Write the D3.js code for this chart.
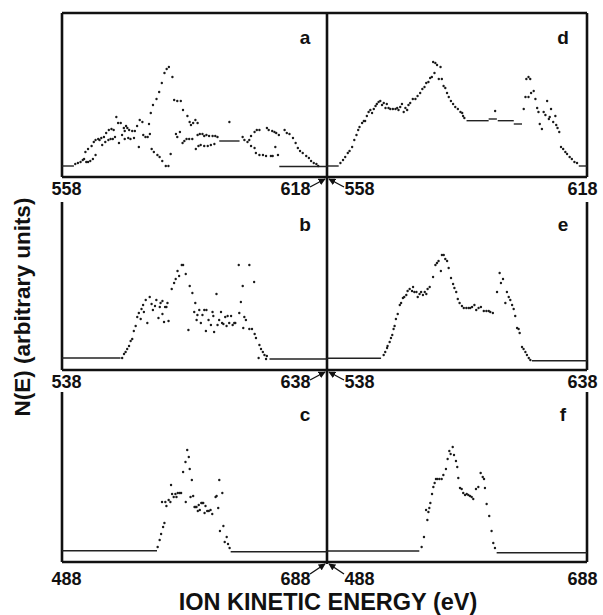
<!DOCTYPE html>
<html>
<head>
<meta charset="utf-8">
<script src="https://cdn.jsdelivr.net/npm/d3@7"></script>
<style>
  body { margin: 0; background: #fff; }
  text { font-family: "Liberation Sans", Arial, sans-serif; font-weight: bold; fill: #111; }
</style>
</head>
<body>
<div id="chart"></div>
<script>
var svgWidth = 603;
var svgHeight = 615;

// energy range of each row (eV)
var rowDomains = [[558, 618], [538, 638], [488, 688]];
var panelLetters = ["a", "b", "c", "d", "e", "f"];

// spectra: [energy (eV), N(E) arbitrary units]
var dotsA = [[561.0,13],[561.6,14],[562.2,15],[562.7,17],[563.0,18],[563.5,15],[563.9,15],[564.4,16],[565.0,18],[565.6,22],
  [563.3,25],[563.9,28],[564.7,31],[565.2,35],[565.6,37],[566.2,38],[566.5,37],[566.9,39],[567.5,40],[567.1,32],
  [567.8,35],[568.5,37],[569.0,38],[569.5,38],[570.0,40],[568.0,44],[568.6,47],[569.2,48],[569.7,47],[570.3,60],
  [570.7,54],[571.3,54],[570.9,34],[571.6,42],[572.0,49],[572.5,51],[572.2,46],[572.8,49],[573.2,47],[573.9,46],
  [574.5,46],[572.2,38],[573.0,39],[573.5,38],[574.3,39],[575.0,51],[575.6,57],[576.2,55],[575.4,30],[576.4,42],
  [576.9,40],[577.4,40],[577.7,53],[577.9,43],[578.3,28],[578.8,25],[579.6,22],[580.1,20],[580.7,16],[581.5,11],
  [582.1,11],[582.6,23],[578.1,64],[578.6,72],[579.4,78],[580.0,85],[580.6,94],[581.2,104],[581.7,108],[582.2,110],
  [583.0,100],[583.4,77],[584.1,76],[584.9,76],[585.4,67],[586.4,61],[586.9,55],[587.2,52],[587.7,54],[588.2,57],
  [588.7,54],[583.8,43],[584.1,40],[584.7,45],[585.3,34],[585.7,36],[586.2,38],[586.8,38],[587.5,38],[588.3,28],
  [588.7,42],[589.2,43],[589.8,43],[590.2,41],[590.7,42],[588.9,31],[589.4,32],[590.2,31],[591.0,31],[591.7,32],
  [592.5,33],[591.3,41],[592.1,41],[592.7,41],[593.2,40],[595.9,55],[598.9,40],[599.3,37],[600.0,35],[600.4,37],
  [600.8,41],[601.6,45],[602.1,47],[602.7,47],[600.8,31],[601.6,29],[601.9,24],[602.7,22],[603.5,22],[604.2,21],
  [605.3,21],[605.7,21],[604.4,49],[604.8,47],[605.6,46],[606.1,45],[606.5,44],[607.1,42],[606.3,30],[606.9,22],
  [608.4,47],[608.9,44],[609.5,43],[610.3,39],[610.9,34],[611.4,29],[611.9,26],[612.5,24],[613.3,21],[613.9,19],
  [614.4,16],[615.0,14],[615.6,13],[616.0,11]];
var dotsB = [[560.7,12],[561.4,16],[562.0,18],[562.6,21],[563.3,24],[563.9,29],[564.5,31],[565.1,39],[565.8,44],[566.4,53],
  [567.0,57],[567.7,51],[568.0,61],[568.6,65],[568.9,58],[569.6,70],[570.2,47],[571.1,73],[571.8,66],[572.3,60],
  [573.1,64],[573.6,70],[574.4,52],[574.9,63],[575.2,67],[575.9,69],[575.9,56],[576.5,48],[576.9,63],[577.4,63],
  [577.8,67],[578.2,49],[579.4,81],[580.3,87],[580.9,91],[581.6,99],[582.2,94],[583.2,105],[583.7,105],[584.7,96],
  [585.7,40],[586.2,84],[587.2,77],[588.3,67],[587.9,58],[588.8,50],[589.1,55],[589.8,60],[590.4,47],[591.0,55],
  [591.7,60],[592.3,39],[592.5,60],[593.3,50],[594.2,45],[594.8,58],[595.1,54],[595.4,38],[596.3,76],[596.7,45],
  [597.3,50],[598.0,58],[598.4,47],[598.9,46],[599.6,53],[600.1,44],[600.5,54],[601.1,47],[601.8,54],[602.4,45],
  [603.0,47],[603.4,47],[604.7,105],[604.9,57],[605.5,68],[606.2,84],[606.4,42],[606.8,53],[607.4,50],[608.7,105],
  [608.7,41],[609.7,41],[610.5,88],[610.7,36],[611.2,32],[612.5,25],[613.1,21],[613.8,18],[614.4,15],[615.0,11],
  [615.3,14],[612.2,12]];
var dotsC = [[560.2,15],[561.7,22],[562.8,28],[564.3,35],[565.3,39],[563.5,60],[566.0,60],[566.8,56],[568.5,62],[569.8,60],
  [570.3,77],[571.1,68],[572.3,65],[573.6,68],[574.4,65],[575.4,69],[576.9,69],[577.9,69],[579.4,90],[581.2,100],
  [581.4,60],[582.5,112],[583.7,105],[584.4,93],[585.0,65],[586.0,82],[587.0,66],[588.0,55],[588.8,55],[589.5,55],
  [590.5,51],[591.2,57],[592.0,52],[593.1,59],[593.8,59],[594.6,59],[595.6,49],[596.3,56],[597.6,51],[598.8,51],
  [600.1,52],[601.4,48],[603.9,65],[604.7,66],[605.9,54],[606.7,82],[609.0,69],[607.2,31],[609.8,36],[610.8,20],
  [612.3,25],[613.3,18],[614.5,14]];
var dotsD = [[561.1,14],[561.7,17],[562.2,20],[562.8,24],[563.2,26],[563.8,30],[564.3,37],[564.8,42],[565.2,47],[565.5,50],
  [566.1,54],[566.5,56],[566.8,56],[567.2,61],[567.6,65],[568.0,67],[568.4,64],[568.8,68],[569.2,71],[569.5,73],
  [569.9,75],[570.3,76],[570.7,72],[571.1,74],[571.5,69],[571.8,73],[572.2,69],[572.6,68],[573.2,68],[573.8,68],
  [574.2,69],[574.5,67],[574.9,70],[575.3,73],[575.7,65],[576.1,69],[576.5,67],[576.8,72],[577.2,74],[577.8,78],
  [578.4,78],[578.9,81],[579.5,84],[580.0,88],[580.5,90],[580.9,94],[581.4,95],[581.8,99],[582.2,100],[582.5,115],
  [582.8,104],[583.0,114],[583.4,112],[583.8,98],[584.2,110],[584.5,98],[584.9,91],[585.3,89],[585.7,84],[586.1,80],
  [586.6,76],[587.1,73],[587.6,70],[588.2,68],[588.8,65],[589.2,64],[589.4,61],[589.7,59],[596.8,66],[603.4,68],
  [603.8,80],[604.0,98],[604.5,100],[604.9,98],[604.5,80],[605.1,84],[605.7,86],[606.1,78],[606.5,69],[606.8,65],
  [607.1,53],[607.6,48],[608.0,65],[608.4,62],[608.8,76],[609.2,58],[609.4,60],[609.7,68],[610.2,55],[610.7,61],
  [610.9,52],[611.2,49],[611.6,45],[612.0,30],[612.5,28],[613.0,25],[613.4,23],[614.0,20],[614.5,18],[615.1,15],
  [615.7,14]];
var dotsE = [[559.8,15],[560.4,18],[561.1,22],[561.3,24],[562.1,28],[562.6,32],[563.1,35],[563.6,41],[564.0,44],[564.5,51],
  [565.2,56],[566.0,65],[566.5,67],[567.2,72],[567.7,73],[568.5,75],[569.0,79],[569.8,81],[570.7,79],[571.1,83],
  [571.6,78],[572.4,78],[572.9,73],[573.6,76],[574.2,78],[574.9,75],[575.6,78],[576.2,76],[576.7,81],[577.5,83],
  [578.8,93],[579.7,105],[580.3,107],[580.9,109],[581.8,99],[582.2,115],[582.9,115],[583.5,111],[584.2,109],[584.8,102],
  [585.7,92],[586.5,86],[587.0,82],[587.7,78],[588.3,71],[589.0,67],[589.9,64],[590.6,62],[591.6,62],[592.5,62],
  [593.1,62],[593.8,63],[594.7,65],[595.4,60],[596.3,62],[597.2,63],[598.3,59],[599.3,59],[600.2,59],[600.8,58],
  [601.8,57],[603.4,78],[604.4,97],[604.9,87],[605.7,91],[606.6,67],[607.2,78],[607.9,73],[608.5,70],[609.2,65],
  [609.8,61],[610.4,54],[611.1,42],[611.7,41],[612.1,37],[613.0,23],[613.6,21],[614.3,18],[614.9,15],[615.6,12],
  [616.2,10]];
var dotsF = [[560.8,15],[562.6,25],[564.2,52],[565.2,42],[566.0,50],[566.7,54],[567.5,59],[568.8,68],[569.8,75],[570.8,79],
  [571.8,83],[572.8,83],[574.4,83],[576.2,83],[577.5,87],[579.5,93],[580.8,103],[582.1,111],[583.1,108],[584.7,115],
  [585.7,107],[587.2,101],[588.2,95],[589.0,84],[590.3,74],[591.6,73],[592.8,69],[594.2,67],[595.5,68],[596.7,67],
  [598.0,66],[599.3,65],[600.5,63],[602.6,73],[604.4,75],[606.2,89],[607.8,85],[608.8,83],[609.5,74],[610.8,58],
  [612.8,46],[614.6,31],[615.9,19],[617.2,14]];

// flat runs of closely packed points: [from eV, to eV, N(E)]
var flatsA = [[558, 560.7, 11], [593.6, 598.2, 36], [607.2, 618, 10.5]];
var flatsB = [[538, 560.1, 12], [616.3, 638, 11]];
var flatsC = [[488, 559.7, 11.3], [615.3, 688, 10.3]];
var flatsD = [[558, 560.7, 11], [590.2, 595.3, 56.3], [595.3, 597.2, 58], [597.4, 601.1, 56.3], [601.1, 603.0, 53], [616.1, 618, 11]];
var flatsE = [[538, 558.8, 11.7], [616.8, 638, 9.3]];
var flatsF = [[488, 559.0, 11], [618.5, 688, 9.3]];

var allDots = [dotsA, dotsB, dotsC, dotsD, dotsE, dotsF];
var allFlats = [flatsA, flatsB, flatsC, flatsD, flatsE, flatsF];

var cols = [[62, 327], [327, 587]];
var rowTop = [13, 202, 392];
var rowBottom = [177, 370, 562];

var svg = d3.select("#chart").append("svg").attr("width", svgWidth).attr("height", svgHeight);

// frame
var frame = svg.append("g").attr("stroke", "#111").attr("stroke-width", 2.6).attr("fill", "none");
frame.append("line").attr("x1", 62).attr("x2", 587).attr("y1", 13).attr("y2", 13);
frame.append("line").attr("x1", 327).attr("x2", 327).attr("y1", 13).attr("y2", 564);
rowBottom.forEach(function(b, r) {
    frame.append("line").attr("x1", 62).attr("x2", 587).attr("y1", b).attr("y2", b);
    frame.append("line").attr("x1", 62).attr("x2", 62).attr("y1", rowTop[r]).attr("y2", b);
    frame.append("line").attr("x1", 587).attr("x2", 587).attr("y1", rowTop[r]).attr("y2", b);
});

panelLetters.forEach(function(letter, i) {
    var col = Math.floor(i / 3), row = i % 3;
    var bottom = rowBottom[row];
    var x = d3.scaleLinear().domain(rowDomains[row]).range(cols[col]);
    var y = d3.scaleLinear().domain([0, 160]).range([bottom, bottom - 160]);
    var g = svg.append("g");

    // flat parts drawn as lines
    var line = d3.line().x(d => x(d[0])).y(d => y(d[1]));
    allFlats[i].forEach(function(f) {
        g.append("path").attr("d", line([[f[0], f[2]], [f[1], f[2]]]))
            .attr("stroke", "#222").attr("stroke-width", 1.4).attr("fill", "none");
    });

    g.selectAll("circle").data(allDots[i]).enter().append("circle")
        .attr("cx", d => x(d[0])).attr("cy", d => y(d[1]))
        .attr("r", 1.2).attr("fill", "#1a1a1a");

    // end labels
    var labelY = row === 2 ? bottom + 23 : bottom + 18;
    var axis = d3.axisBottom(x).tickValues(rowDomains[row]).tickSize(0).tickFormat(d3.format("d"));
    var ax = svg.append("g").attr("transform", "translate(0," + bottom + ")").call(axis);
    ax.select(".domain").remove();
    ax.selectAll("text").attr("y", labelY - bottom).attr("dy", 0)
        .style("font-size", "18px").style("font-family", "Liberation Sans, Arial, sans-serif")
        .attr("fill", "#111")
        .attr("text-anchor", function(d, k) {
            if (col === 0) return k === 0 ? "middle" : "end";
            return k === 0 ? "start" : "middle";
        })
        .attr("dx", function(d, k) {
            if (col === 0) return k === 0 ? 4 : -17;
            return k === 0 ? 17 : -5;
        });

    svg.append("text").attr("x", (col === 0 ? 305 : 563)).attr("y", rowTop[row] + (row === 0 ? 31 : 29))
        .attr("text-anchor", "middle").style("font-size", "19px").text(letter);
});

// little arrows pointing at the shared edge
var defs = svg.append("defs");
defs.append("marker").attr("id", "head").attr("viewBox", "0 0 10 10").attr("refX", 9).attr("refY", 5)
    .attr("markerWidth", 5).attr("markerHeight", 5).attr("orient", "auto")
    .append("path").attr("d", "M0,0L10,5L0,10Z").attr("fill", "#111");
rowBottom.forEach(function(b, r) {
    var dy = r === 2 ? 12 : 10;
    svg.append("line").attr("x1", 310).attr("y1", b + dy).attr("x2", 325).attr("y2", b + 2)
        .attr("stroke", "#111").attr("stroke-width", 1.4).attr("marker-end", "url(#head)");
    svg.append("line").attr("x1", 344).attr("y1", b + dy).attr("x2", 329).attr("y2", b + 2)
        .attr("stroke", "#111").attr("stroke-width", 1.4).attr("marker-end", "url(#head)");
});

svg.append("text").attr("x", 328).attr("y", 610).attr("text-anchor", "middle")
    .style("font-size", "23.5px").text("ION KINETIC ENERGY (eV)");
svg.append("text").attr("transform", "translate(30,307) rotate(-90)").attr("text-anchor", "middle")
    .style("font-size", "22.5px").text("N(E) (arbitrary units)");
</script>
</body>
</html>
